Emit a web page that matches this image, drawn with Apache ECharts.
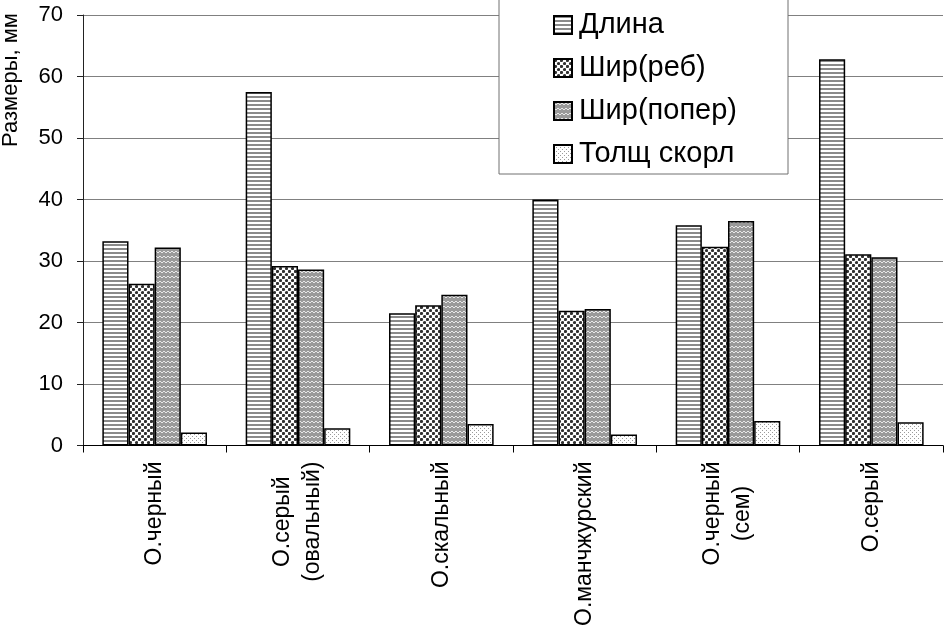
<!DOCTYPE html>
<html><head><meta charset="utf-8">
<script src="https://cdn.jsdelivr.net/npm/echarts@6/dist/echarts.min.js"></script>
<style>html,body{margin:0;padding:0;background:#fff}#c{width:944px;height:627px}</style>
</head><body><div id="c"></div>
<script>
var categories = ['О.черный', 'О.серый\n(овальный)', 'О.скальный', 'О.манчжурский', 'О.черный\n(сем)', 'О.серый'];
var seriesNames = ['Длина', 'Шир(реб)', 'Шир(попер)', 'Толщ скорл'];
var dlina = [33.2, 57.5, 21.5, 40.0, 35.8, 62.8];
var shirReb = [26.3, 29.2, 22.8, 21.9, 32.3, 31.1];
var shirPoper = [32.2, 28.6, 24.5, 22.2, 36.5, 30.6];
var tolsch = [2.1, 2.8, 3.5, 1.8, 4.0, 3.8];
var yTicks = [0, 10, 20, 30, 40, 50, 60, 70];

function mk(w, h, draw) {
  var c = document.createElement('canvas'); c.width = w; c.height = h;
  var ctx = c.getContext('2d'); draw(ctx); return {image: c, repeat: 'repeat'};
}
var patStripes = mk(4, 4, function (g) {
  g.fillStyle = '#fff'; g.fillRect(0, 0, 4, 4);
  g.fillStyle = '#8a8a8a'; g.fillRect(0, 0, 4, 2);
});
var patChecker = mk(6, 6, function (g) {
  g.fillStyle = '#fff'; g.fillRect(0, 0, 6, 6);
  g.fillStyle = '#303030';
  g.beginPath(); g.arc(1.5, 1.5, 1.6, 0, Math.PI * 2); g.fill();
  g.beginPath(); g.arc(4.5, 4.5, 1.6, 0, Math.PI * 2); g.fill();
});
var patWave = mk(8, 5, function (g) {
  g.fillStyle = '#9a9a9a'; g.fillRect(0, 0, 8, 5);
  g.strokeStyle = '#e8e8e8'; g.lineWidth = 1;
  g.beginPath(); g.moveTo(0, 1); g.lineTo(2, 3); g.lineTo(4, 1); g.lineTo(6, 3); g.lineTo(8, 1); g.stroke();
});
var patDots = mk(4, 4, function (g) {
  g.fillStyle = '#fff'; g.fillRect(0, 0, 4, 4);
  g.fillStyle = '#9a9a9a'; g.fillRect(0, 0, 1, 1); g.fillRect(2, 2, 1, 1);
});
var patterns = [patStripes, patChecker, patWave, patDots];
var data = [dlina, shirReb, shirPoper, tolsch];

var FONT = 'Liberation Sans';
var chart = echarts.init(document.getElementById('c'), null, {renderer: 'canvas'});
chart.setOption({
  animation: false,
  backgroundColor: '#fff',
  textStyle: {fontFamily: FONT},
  grid: {left: 83, right: 1, top: 15, bottom: 181.5, containLabel: false, outerBoundsMode: 'none'},
  legend: {
    orient: 'vertical', left: 499, top: -10,
    padding: [20, 51, 5, 54],
    backgroundColor: '#fff', borderColor: '#707070', borderWidth: 1,
    itemWidth: 18, itemHeight: 18, itemGap: 13,
    icon: 'rect',
    textStyle: {fontFamily: FONT, fontSize: 29, color: '#000', lineHeight: 30, padding: [0, 0, 0, 2]},
    data: seriesNames
  },
  graphic: [{
    type: 'text', x: 0, y: 80, rotation: Math.PI / 2,
    style: {text: 'Размеры, мм', font: '22px "Liberation Sans"', fill: '#000', align: 'center', verticalAlign: 'top'}
  }],
  xAxis: {
    type: 'category', data: categories,
    axisLine: {lineStyle: {color: '#000', width: 1}},
    axisTick: {show: true, length: 7, lineStyle: {color: '#000'}},
    axisLabel: {
      rotate: 90, margin: 16, interval: 0, color: '#000', fontSize: 23, fontFamily: FONT, lineHeight: 30,
      formatter: function (v) {
        if (v.indexOf('\n') < 0) return v;
        return v.split('\n').map(function (l) { return '{c|' + l + '}'; }).join('\n');
      },
      rich: {c: {align: 'center', fontSize: 23, fontFamily: FONT, lineHeight: 30, color: '#000'}}
    },
    splitLine: {show: false}
  },
  yAxis: {
    type: 'value', min: yTicks[0], max: yTicks[yTicks.length - 1], interval: 10,
    axisLine: {show: true, lineStyle: {color: '#222', width: 1}},
    axisTick: {show: true, length: 6, lineStyle: {color: '#222'}},
    axisLabel: {margin: 20, color: '#000', fontSize: 22, fontFamily: FONT},
    splitLine: {show: true, lineStyle: {color: '#808080', width: 1}}
  },
  series: seriesNames.map(function (n, i) {
    return {
      name: n, type: 'bar', data: data[i],
      barGap: '0%', barCategoryGap: '27%',
      itemStyle: {color: patterns[i], borderColor: '#000', borderWidth: 1.5}
    };
  })
});
</script></body></html>
